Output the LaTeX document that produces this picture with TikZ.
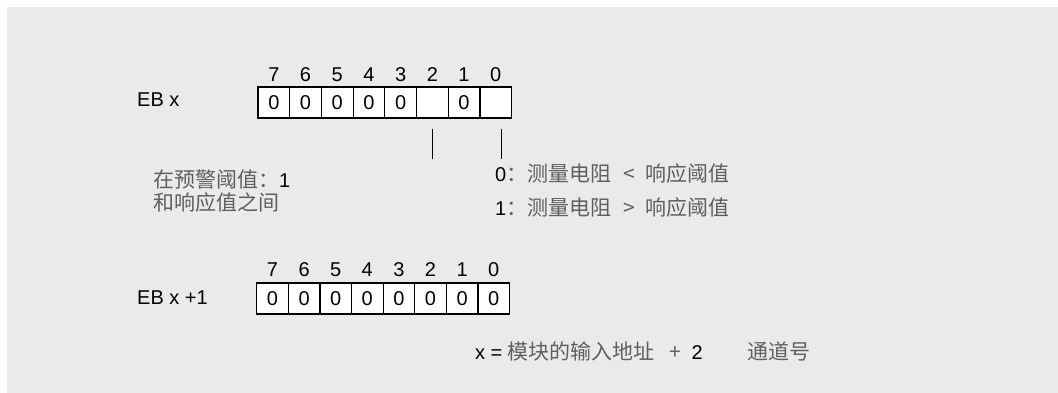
\documentclass[tikz,border=0pt]{standalone}
\usepackage{fontspec}
\setmainfont{Liberation Sans}
\newfontfamily\cjk{Noto Sans CJK SC}
\usetikzlibrary{calc}
\definecolor{panelGray}{RGB}{234,234,236}
\definecolor{textGray}{RGB}{95,95,95}
\newcommand{\zh}[1]{{\cjk\fontsize{21}{25}\selectfont\color{textGray}#1}}

\begin{document}
\begin{tikzpicture}[x=1pt,y=-1pt,
  bitcell/.style={draw,line width=1.2pt,fill=white,minimum height=31pt,inner sep=0pt,font=\fontsize{20}{24}\selectfont},
  bitnum/.style={anchor=base,inner sep=0pt,font=\fontsize{20}{24}\selectfont},
  txt/.style={anchor=base west,inner sep=0pt,font=\fontsize{20}{24}\selectfont}]
\useasboundingbox (0,0) rectangle (1058,393);
\fill[panelGray] (7,7) rectangle (1058,393);

% EB x
\node[txt] (ebx) at (137,107) {EB x};
\foreach \b/\v in {7/0,6/0,5/0,4/0,3/0,2/{},1/0,0/{}} {
  \node[bitcell,minimum width=31.7pt] (top\b) at ({273.85+31.7*(7-\b)},102.5) {\v};
  \node[bitnum] (topn\b) at ($(top\b.north)+(0,-5)$) {\b};
}

% ticks below bit 2 and bit 0
\coordinate (tickTwoA) at ($(top2.south)+(0,10)$);
\coordinate (tickTwoB) at ($(top2.south)+(0,40)$);
\coordinate (tickZeroA) at ($(top0.south)+(6,10)$);
\coordinate (tickZeroB) at ($(top0.south)+(6,40)$);
\draw[line width=1.2pt] (tickTwoA) -- (tickTwoB);
\draw[line width=1.2pt] (tickZeroA) -- (tickZeroB);

\node[txt] (warnA) at (153,187) {\zh{在预警阈值：}1};
\node[txt] (warnB) at (153,210) {\zh{和响应值之间}};
\node[txt] (resLow) at (495,182) {0\zh{：测量电阻\hspace{12pt}<\hspace{11pt}响应阈值}};
\node[txt] (resHigh) at (495,215) {1\zh{：测量电阻\hspace{12pt}>\hspace{11pt}响应阈值}};

% EB x +1
\node[txt] (ebxp) at (137,304) {EB x +1};
\foreach \b in {7,...,0} {
  \node[bitcell,minimum width=31.6pt] (bot\b) at ({272.5+31.6*(7-\b)},298.5) {0};
  \node[bitnum] (botn\b) at ($(bot\b.north)+(0,-6)$) {\b};
}

\node[txt] (addr) at (475,359) {x = \zh{模块的输入地址\hspace{15pt}+\hspace{10pt}}2\hspace{45pt}\zh{通道号}};
\end{tikzpicture}
\end{document}
